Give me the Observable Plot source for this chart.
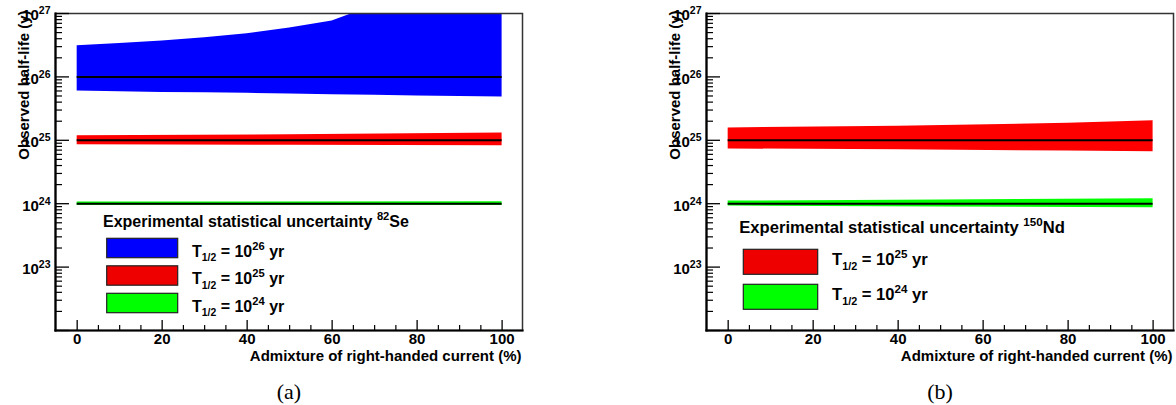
<!DOCTYPE html>
<html><head><meta charset="utf-8">
<script src="https://cdn.jsdelivr.net/npm/d3@7"></script>
<script src="https://cdn.jsdelivr.net/npm/@observablehq/plot@0.6"></script>
<style>
body{margin:0;background:#fff;}
#wrap{position:relative;width:1176px;height:405px;overflow:hidden;font-family:"Liberation Sans",Arial,sans-serif;}
#wrap > svg{position:absolute;top:0;}
</style></head><body><div id="wrap"></div>
<script>
// ---------- data ----------
const xExtent = [0, 100];                       // admixture range of the bands (%)
// 82Se, T1/2 = 1e26 yr (blue)
const seT26X     = [0, 10, 20, 30, 40, 50, 60, 70, 80, 90, 100];
const seT26Upper = [3.1e26, 3.35e26, 3.7e26, 4.15e26, 4.8e26, 5.9e26, 7.6e26, 1.35e27, 1.9e27, 2.6e27, 3.5e27];
const seT26Lower = [6.0e25, 5.85e25, 5.7e25, 5.6e25, 5.5e25, 5.35e25, 5.25e25, 5.15e25, 5.0e25, 4.9e25, 4.8e25];
// 82Se, T1/2 = 1e25 yr (red)
const seT25X     = [0, 50, 100];
const seT25Upper = [1.18e25, 1.22e25, 1.3e25];
const seT25Lower = [8.5e24, 8.35e24, 8.2e24];
// 82Se, T1/2 = 1e24 yr (green)
const seT24X     = [0, 100];
const seT24Upper = [1.065e24, 1.07e24];
const seT24Lower = [0.94e24, 0.935e24];
const seCenters  = [1e26, 1e25, 1e24];
// 150Nd, T1/2 = 1e25 yr (red)
const ndT25X     = [0, 40, 80, 100];
const ndT25Upper = [1.57e25, 1.66e25, 1.86e25, 2.04e25];
const ndT25Lower = [7.3e24, 7.1e24, 6.75e24, 6.6e24];
// 150Nd, T1/2 = 1e24 yr (green)
const ndT24X     = [0, 50, 100];
const ndT24Upper = [1.1e24, 1.14e24, 1.2e24];
const ndT24Lower = [0.92e24, 0.89e24, 0.865e24];
const ndCenters  = [1e25, 1e24];
// ticks
const xTickLabels = [0, 20, 40, 60, 80, 100];
const xMinorTicks = [5, 10, 15, 25, 30, 35, 45, 50, 55, 65, 70, 75, 85, 90, 95];
const yTickExps   = [23, 24, 25, 26, 27];
const yDecades    = [22, 23, 24, 25, 26, 27];
const yMantissas  = [2, 3, 4, 5, 6, 7, 8, 9];
// legends
const seLegendTitle = ["Experimental statistical uncertainty ", "82", "Se"];
const seLegendExps  = [26, 25, 24];
const ndLegendTitle = ["Experimental statistical uncertainty ", "150", "Nd"];
const ndLegendExps  = [25, 24];
const captions = ["(a)", "(b)"];
const yLabel = "Observed half-life (y)";
const xLabel = "Admixture of right-handed current (%)";

const BLUE = "#0000ff", RED = "#ff0000", GREEN = "#00ff00";

function rows(xs, lo, hi) { return xs.map((x, i) => ({x, lo: lo[i], hi: hi[i]})); }

function panel({width, marginLeft, marginRight, bands, centers}) {
  const height = 372, marginTop = 13, marginBottom = 42;
  const innerW = width - marginLeft - marginRight;
  const innerH = height - marginTop - marginBottom;
  const yMajor = yDecades.map(e => 10 ** e);
  const yMinor = yDecades.slice(0, -1).flatMap(e => yMantissas.map(m => m * 10 ** e));
  const marks = [];
  for (const b of bands) {
    marks.push(Plot.areaY(b.data, {x: "x", y1: "lo", y2: "hi", fill: b.color, clip: true}));
  }
  marks.push(
    Plot.ruleY(centers, {x1: xExtent[0], x2: xExtent[1], stroke: "black", strokeWidth: 2}),
    Plot.frame({stroke: "#333", strokeWidth: 1.5}),
    Plot.tickY(yMajor, {insetRight: innerW - 14, stroke: "black", strokeWidth: 1.3}),
    Plot.tickY(yMinor, {insetRight: innerW - 7, stroke: "black", strokeWidth: 1.2}),
    Plot.tickX(xTickLabels, {insetTop: innerH - 10, stroke: "black", strokeWidth: 1.3}),
    Plot.tickX(xMinorTicks, {insetTop: innerH - 5, stroke: "black", strokeWidth: 1.2}),
    Plot.frame({anchor: "left", stroke: "black", strokeWidth: 2.2}),
    Plot.frame({anchor: "bottom", stroke: "black", strokeWidth: 2.2}),
    Plot.axisY(yTickExps.map(e => 10 ** e), {tickSize: 0, tickPadding: 5, dy: 2, label: null,
      tickFormat: d => "10^" + Math.round(Math.log10(d))}),
    Plot.axisX(xTickLabels, {tickSize: 0, tickPadding: 3, label: null, fontSize: 15, tickFormat: d => String(d)}),
    Plot.text([yLabel], {frameAnchor: "top-left", rotate: -90, textAnchor: "end", dx: -37, dy: -3, fontSize: 15}),
    Plot.text([xLabel], {frameAnchor: "bottom-right", textAnchor: "end", dx: -1, dy: 30.5, fontSize: 15})
  );
  const svg = Plot.plot({
    width, height, marginTop, marginBottom, marginLeft, marginRight,
    x: {domain: [-5.1, 104.8]},
    y: {type: "log", domain: [1e22, 1e27]},
    style: {fontFamily: '"Liberation Sans", Arial, sans-serif', fontSize: "15px", fontWeight: "bold", color: "black", background: "white", overflow: "visible"},
    marks
  });
  // superscripts in tick labels
  d3.select(svg).selectAll("text").each(function() {
    const t = this.textContent;
    if (t.includes("^")) {
      const [base, exp] = t.split("^");
      const sel = d3.select(this);
      sel.text(null);
      sel.append("tspan").text(base);
      sel.append("tspan").attr("dy", -6).attr("font-size", 10.5).text(exp);
    }
  });
  return svg;
}

const wrap = document.getElementById("wrap");
const left = panel({
  width: 588, marginLeft: 55, marginRight: 66,
  bands: [
    {data: rows(seT26X, seT26Lower, seT26Upper), color: BLUE},
    {data: rows(seT25X, seT25Lower, seT25Upper), color: RED},
    {data: rows(seT24X, seT24Lower, seT24Upper), color: GREEN}
  ],
  centers: seCenters
});
left.style.left = "0px";
wrap.appendChild(left);
const right = panel({
  width: 588, marginLeft: 118, marginRight: 3,
  bands: [
    {data: rows(ndT25X, ndT25Lower, ndT25Upper), color: RED},
    {data: rows(ndT24X, ndT24Lower, ndT24Upper), color: GREEN}
  ],
  centers: ndCenters
});
right.style.left = "588px";
wrap.appendChild(right);

// ---------- legends and captions overlay ----------
const ov = d3.select(wrap).append("svg")
  .attr("width", 1176).attr("height", 405)
  .style("left", "0px").style("pointer-events", "none")
  .attr("font-family", '"Liberation Sans", Arial, sans-serif')
  .attr("font-weight", "bold");

function legend({fs, titleX, titleY, title, boxX, boxW, boxH, boxYs, labelX, labelDy, exps, colors}) {
  const sup = fs * 0.7, up = fs * 0.42;
  const t = ov.append("text").attr("x", titleX).attr("y", titleY).attr("font-size", fs);
  t.append("tspan").text(title[0]);
  t.append("tspan").attr("dy", -up).attr("font-size", sup).text(title[1]);
  t.append("tspan").attr("dy", up).text(title[2]);
  exps.forEach((e, i) => {
    ov.append("rect").attr("x", boxX).attr("y", boxYs[i]).attr("width", boxW).attr("height", boxH)
      .attr("fill", colors[i]).attr("stroke", "#222").attr("stroke-width", 1.2);
    const l = ov.append("text").attr("x", labelX).attr("y", boxYs[i] + labelDy).attr("font-size", fs);
    l.append("tspan").text("T");
    l.append("tspan").attr("dy", fs * 0.28).attr("font-size", fs * 0.65).text("1/2");
    l.append("tspan").attr("dy", -fs * 0.28).text(" = 10");
    l.append("tspan").attr("dy", -up).attr("font-size", sup).text(String(e));
    l.append("tspan").attr("dy", up).text(" yr");
  });
}
legend({fs: 16, titleX: 103, titleY: 227, title: seLegendTitle, boxX: 106.7, boxW: 71, boxH: 19.4,
  boxYs: [238.3, 265.8, 293.3], labelX: 192, labelDy: 18.4, exps: seLegendExps, colors: [BLUE, "#ee0000", GREEN]});
legend({fs: 16.6, titleX: 739.3, titleY: 233.3, title: ndLegendTitle, boxX: 743.3, boxW: 74.4, boxH: 25,
  boxYs: [249.3, 284.3], labelX: 832, labelDy: 16, exps: ndLegendExps, colors: ["#ee0000", GREEN]});

ov.selectAll("text.cap").data(captions).join("text").attr("class", "cap")
  .attr("x", (d, i) => [289, 940][i]).attr("y", 399).attr("text-anchor", "middle")
  .attr("font-family", '"Liberation Serif", "DejaVu Serif", serif').attr("font-weight", "normal")
  .attr("font-size", 22).text(d => d);
</script></body></html>
